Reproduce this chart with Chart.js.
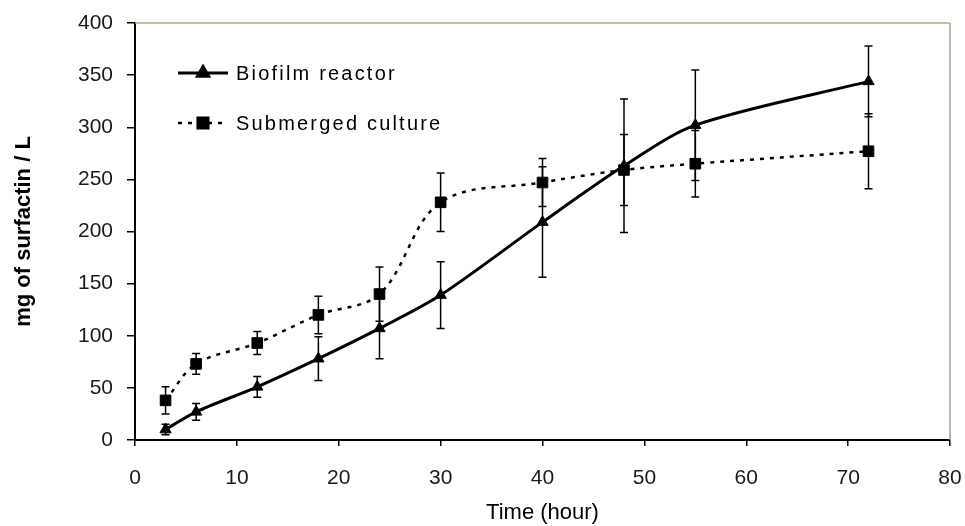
<!DOCTYPE html>
<html>
<head>
    <title>Surfactin production</title>
    <script src="https://cdn.jsdelivr.net/npm/chart.js"></script>
    <style>
        body {
            margin: 0;
            background: #fff;
        }
        .container {
            width: 965px;
            height: 526px;
        }
    </style>
</head>
<body>
    <div class="container">
        <canvas id="chart" width="965" height="526"></canvas>
    </div>

    <script>
        const hours = [3, 6, 12, 18, 24, 30, 40, 48, 55, 72];
        const biofilm = [10, 27, 51, 78, 107, 139, 209, 263, 302, 344];
        const biofilmErr = [5, 8, 10, 21, 29, 32, 53, 64, 53, 34];
        const submerged = [38, 73, 93, 120, 140, 228, 247, 259, 265, 277];
        const submergedErr = [13, 10, 11, 18, 26, 28, 23, 34, 32, 36];

        const xTicks = [0, 10, 20, 30, 40, 50, 60, 70, 80];
        const yTicks = [0, 50, 100, 150, 200, 250, 300, 350, 400];

        const errors = [biofilmErr, submergedErr];

        const errorBars = {
            id: 'errorBars',
            beforeDatasetsDraw(chart) {
                const ctx = chart.ctx;
                const y = chart.scales.y;
                ctx.save();
                ctx.strokeStyle = '#000';
                ctx.lineWidth = 1.5;
                chart.data.datasets.forEach((ds, i) => {
                    const meta = chart.getDatasetMeta(i);
                    meta.data.forEach((pt, j) => {
                        const v = ds.data[j].y;
                        const e = errors[i][j];
                        const top = y.getPixelForValue(v + e);
                        const bot = y.getPixelForValue(v - e);
                        ctx.beginPath();
                        ctx.moveTo(pt.x, top);
                        ctx.lineTo(pt.x, bot);
                        ctx.moveTo(pt.x - 4, top);
                        ctx.lineTo(pt.x + 4, top);
                        ctx.moveTo(pt.x - 4, bot);
                        ctx.lineTo(pt.x + 4, bot);
                        ctx.stroke();
                    });
                });
                ctx.restore();
            }
        };

        const frame = {
            id: 'frame',
            beforeDatasetsDraw(chart) {
                const {ctx, chartArea} = chart;
                ctx.save();
                ctx.lineWidth = 1.5;
                ctx.strokeStyle = '#b5ab80';
                ctx.beginPath();
                ctx.moveTo(chartArea.left, chartArea.top);
                ctx.lineTo(chartArea.right, chartArea.top);
                ctx.stroke();
                ctx.strokeStyle = '#a0a0a0';
                ctx.beginPath();
                ctx.moveTo(chartArea.right, chartArea.top);
                ctx.lineTo(chartArea.right, chartArea.bottom);
                ctx.stroke();
                ctx.restore();
            }
        };

        // legend drawn inside the plot, Excel style
        const insideLegend = {
            id: 'insideLegend',
            afterDraw(chart) {
                const {ctx, chartArea} = chart;
                const x0 = chartArea.left + 43;
                const rows = [chartArea.top + 50, chartArea.top + 100];
                ctx.save();
                ctx.font = '20px "Liberation Sans", Arial, sans-serif';
                ctx.letterSpacing = '2.2px';
                ctx.textBaseline = 'middle';
                ctx.fillStyle = '#000';
                chart.data.datasets.forEach((ds, i) => {
                    const yy = rows[i];
                    ctx.strokeStyle = '#000';
                    ctx.lineWidth = ds.borderWidth;
                    ctx.setLineDash(ds.borderDash || []);
                    ctx.beginPath();
                    ctx.moveTo(x0, yy);
                    ctx.lineTo(x0 + 50, yy);
                    ctx.stroke();
                    ctx.setLineDash([]);
                    Chart.helpers.drawPoint(ctx, {
                        pointStyle: ds.pointStyle,
                        radius: ds.pointRadius,
                        borderWidth: 1
                    }, x0 + 25, yy);
                    ctx.fillText(ds.label, x0 + 58, yy + 1);
                });
                ctx.restore();
            }
        };

        const chart = new Chart(document.getElementById('chart'), {
            type: 'line',
            data: {
                datasets: [
                    {
                        label: 'Biofilm reactor',
                        data: hours.map((h, i) => ({x: h, y: biofilm[i]})),
                        borderColor: '#000',
                        backgroundColor: '#000',
                        borderWidth: 3,
                        pointStyle: 'triangle',
                        pointRadius: 6.5,
                        pointBorderWidth: 1,
                        tension: 0.3,
                        fill: false
                    },
                    {
                        label: 'Submerged culture',
                        data: hours.map((h, i) => ({x: h, y: submerged[i]})),
                        borderColor: '#000',
                        backgroundColor: '#000',
                        borderWidth: 2.5,
                        borderDash: [4, 6],
                        pointStyle: 'rect',
                        pointRadius: 7.5,
                        pointBorderWidth: 1,
                        tension: 0.35,
                        fill: false
                    }
                ]
            },
            options: {
                responsive: false,
                animation: false,
                layout: {
                    padding: {left: 0, right: 15, top: 23, bottom: 0}
                },
                plugins: {
                    legend: {display: false},
                    tooltip: {enabled: false}
                },
                scales: {
                    x: {
                        type: 'linear',
                        min: xTicks[0],
                        max: xTicks[xTicks.length - 1],
                        afterBuildTicks: scale => {
                            scale.ticks = xTicks.map(v => ({value: v}));
                        },
                        afterFit: scale => {
                            scale.height = 86;
                            scale.paddingLeft = 0;
                            scale.paddingRight = 0;
                        },
                        border: {color: '#000', width: 2},
                        grid: {
                            drawOnChartArea: false,
                            drawTicks: true,
                            tickLength: 6,
                            color: '#000',
                            lineWidth: 1.5
                        },
                        ticks: {
                            padding: 20,
                            color: '#1a1a1a',
                            font: {family: '"Liberation Sans", Arial, sans-serif', size: 21}
                        },
                        title: {
                            display: true,
                            text: 'Time (hour)',
                            color: '#000',
                            padding: {top: 0, bottom: 0},
                            font: {family: '"Liberation Sans", Arial, sans-serif', size: 22}
                        }
                    },
                    y: {
                        type: 'linear',
                        min: yTicks[0],
                        max: yTicks[yTicks.length - 1],
                        afterBuildTicks: scale => {
                            scale.ticks = yTicks.map(v => ({value: v}));
                        },
                        afterFit: scale => {
                            scale.width = 135;
                            scale.paddingTop = 0;
                            scale.paddingBottom = 0;
                        },
                        border: {color: '#000', width: 2},
                        grid: {
                            drawOnChartArea: false,
                            drawTicks: true,
                            tickLength: 8,
                            color: '#000',
                            lineWidth: 1.5
                        },
                        ticks: {
                            padding: 14,
                            color: '#1a1a1a',
                            font: {family: '"Liberation Sans", Arial, sans-serif', size: 21}
                        },
                        title: {
                            display: true,
                            text: 'mg of surfactin / L',
                            color: '#000',
                            padding: {top: 11, bottom: 0},
                            font: {family: '"Liberation Sans", Arial, sans-serif', size: 22, weight: 'bold'}
                        }
                    }
                }
            },
            plugins: [frame, errorBars, insideLegend]
        });
    </script>
</body>
</html>
